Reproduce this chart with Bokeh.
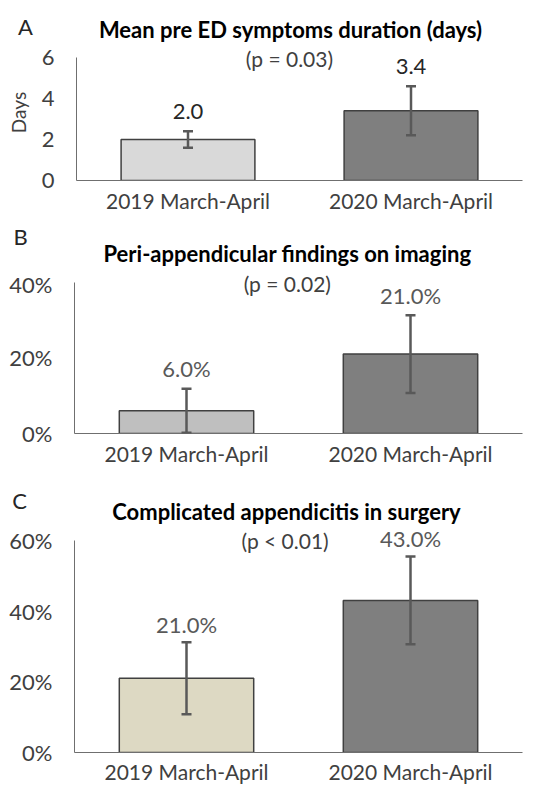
from bokeh.plotting import figure
from bokeh.layouts import column
from bokeh.models import (ColumnDataSource, Whisker, TeeHead, Label, LabelSet,
                          FactorRange, PrintfTickFormatter, FixedTicker, Range1d)
from bokeh.core.properties import value
from bokeh.embed import file_html
from bokeh.resources import INLINE

# ---- data ----
categories = ["2019 March-April", "2020 March-April"]

duration_mean = [2.0, 3.4]
duration_err = [0.4, 1.2]

imaging_pct = [6.0, 21.0]
imaging_err = [5.8, 10.3]

surgery_pct = [21.0, 43.0]
surgery_err = [10.2, 12.4]

titles = ["Mean pre ED symptoms duration (days)",
          "Peri-appendicular findings on imaging",
          "Complicated appendicitis in surgery"]
p_values = ["(p = 0.03)", "(p = 0.02)", "(p < 0.01)"]
panel_letters = ["A", "B", "C"]

FONT = "Lato"
DARK = "#404040"
W = 525


def header(h, title, letter, title_x, title_y, letter_x, letter_y):
    p = figure(width=W, height=h, x_range=Range1d(0, W), y_range=Range1d(0, h),
               x_axis_type=None, y_axis_type=None, output_backend="svg",
               toolbar_location=None, min_border=0, min_border_left=0,
               min_border_right=0, min_border_top=0, min_border_bottom=0,
               frame_align=False)
    p.outline_line_color = None
    p.xgrid.grid_line_color = None
    p.ygrid.grid_line_color = None
    p.add_layout(Label(x=title_x, y=title_y, text=title, text_align="center",
                       text_baseline="middle", text_font=FONT,
                       text_font_style="bold", text_font_size="22px",
                       text_color="black"))
    p.add_layout(Label(x=letter_x, y=letter_y, text=letter, text_align="center",
                       text_baseline="middle", text_font=FONT,
                       text_font_size="22px", text_color="#262626"))
    return p


def panel(vals, errs, colors, ymax, yend, ticks, height, border_left,
          border_bottom, cat_standoff, pct, pval, p_x, p_y, label_color,
          label_offset=20, ylabel=None):
    p = figure(x_range=FactorRange(*categories, range_padding=0),
               y_range=Range1d(0, yend), width=W, height=height,
               output_backend="svg", toolbar_location=None,
               min_border_left=border_left, min_border_right=3,
               min_border_top=0, min_border_bottom=border_bottom,
               frame_align=False)
    p.outline_line_color = None
    p.xgrid.grid_line_color = None
    p.ygrid.grid_line_color = None
    p.background_fill_color = "white"

    src = ColumnDataSource(dict(
        x=categories, top=vals, upper=[v + e for v, e in zip(vals, errs)],
        lower=[max(v - e, 0) for v, e in zip(vals, errs)], color=colors,
        text=[(f"{v:.1f}%" if pct else f"{v:.1f}") for v in vals]))

    p.vbar(x="x", top="top", width=0.6, source=src, fill_color="color",
           line_color=DARK, line_width=1.5)
    w = Whisker(base="x", upper="upper", lower="lower", source=src,
                level="overlay", line_color="#595959", line_width=2.5,
                upper_head=TeeHead(size=10, line_color="#595959", line_width=2.5),
                lower_head=TeeHead(size=10, line_color="#595959", line_width=2.5))
    p.add_layout(w)
    p.add_layout(LabelSet(x="x", y="upper", text="text", source=src,
                          y_offset=label_offset, text_align="center",
                          text_baseline="middle",
                          text_font=value(FONT), text_font_size="22px",
                          text_color=label_color))

    # axes
    p.yaxis.ticker = FixedTicker(ticks=ticks)
    p.yaxis.bounds = (0, ymax)
    if pct:
        p.yaxis.formatter = PrintfTickFormatter(format="%d%%")
    for ax in (p.xaxis, p.yaxis):
        ax.major_tick_line_color = None
        ax.minor_tick_line_color = None
        ax.major_tick_out = 0
        ax.major_tick_in = 0
        ax.minor_tick_out = 0
        ax.minor_tick_in = 0
        ax.axis_line_color = "#6f6f6f"
        ax.axis_line_width = 1
        ax.major_label_text_font = FONT
        ax.major_label_text_color = DARK
    p.yaxis.major_label_text_font_size = "22px"
    p.xaxis.major_label_text_font_size = "21px"
    p.yaxis.major_label_standoff = 22
    p.xaxis.major_label_standoff = cat_standoff
    if ylabel:
        p.yaxis.axis_label = ylabel
        p.yaxis.axis_label_text_font = FONT
        p.yaxis.axis_label_text_font_style = "normal"
        p.yaxis.axis_label_text_font_size = "19px"
        p.yaxis.axis_label_text_color = DARK
        p.yaxis.axis_label_standoff = 9

    p.add_layout(Label(x=p_x, y=p_y, text=pval, text_align="center",
                       text_baseline="middle", text_font=FONT,
                       text_font_size="21px", text_color=DARK))
    return p


hA = header(44, titles[0], panel_letters[0], 290, 15, 25, 18)
pA = panel(duration_mean, duration_err, ["#d9d9d9", "#7f7f7f"], 6, 6.63,
           [0, 2, 4, 6], 174, 76, 38, 7, False, p_values[0], 0.955, 5.95,
           "#262626", ylabel="Days")
hB = header(52, titles[1], panel_letters[1], 287, 17, 20, 34)
pB = panel(imaging_pct, imaging_err, ["#bfbfbf", "#7f7f7f"], 40, 43.1,
           [0, 20, 40], 198, 74, 33, 7, True, p_values[1], 0.95, 39.7, "#595959")
hC = header(56, titles[2], panel_letters[2], 286, 13, 19, 24)
pC = panel(surgery_pct, surgery_err, ["#ddd9c3", "#7f7f7f"], 60, 64.47,
           [0, 20, 40, 60], 262, 74, 31, 6, True, p_values[2], 0.94, 60.0,
           "#595959", label_offset=18)

layout = column(hA, pA, hB, pB, hC, pC, spacing=0)
open("out.html", "w").write(file_html(layout, INLINE))
